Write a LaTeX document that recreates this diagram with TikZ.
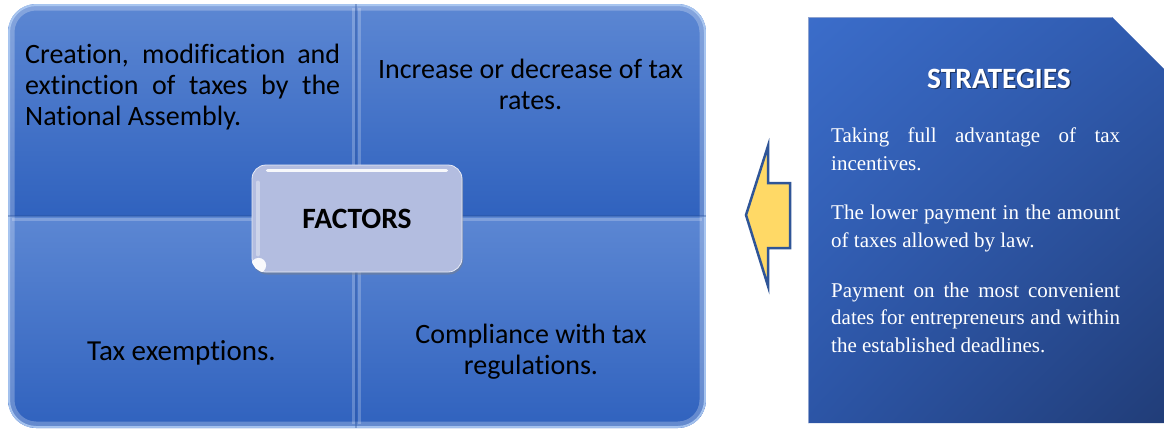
\documentclass[tikz,border=0pt]{standalone}
\usepackage{fontspec}
\setmainfont{Liberation Serif}
\newfontfamily\calibri[Ligatures=NoCommon]{Carlito}
\usetikzlibrary{shadows,shadings,calc}

\definecolor{quadtop}{HTML}{5C87D3}
\definecolor{quadbot}{HTML}{3062BE}
\definecolor{rimlight}{HTML}{B5D0F5}
\definecolor{factfill}{HTML}{B3BDE0}
\definecolor{arrowfill}{HTML}{FFD966}
\definecolor{arrowline}{HTML}{2F5597}
\definecolor{stratA}{HTML}{3B6DCA}
\definecolor{stratB}{HTML}{2F5AAE}
\definecolor{stratC}{HTML}{2C55A6}
\definecolor{stratD}{HTML}{213D78}
\definecolor{stratedge}{HTML}{8FA3CF}

\begin{document}
\begin{tikzpicture}[x=1pt,y=-1pt,
  quad/.style={top color=quadtop, bottom color=quadbot},
  quadtext/.style={inner sep=0pt, text=black, font=\calibri\fontsize{28}{31}\selectfont},
  factbox/.style={draw=white!70!factfill, line width=.8pt, fill=factfill, rounded corners=14pt,
    minimum width=210pt, minimum height=107pt, inner sep=0pt,
    font=\calibri\bfseries\fontsize{29.5}{32}\selectfont,
    drop shadow={shadow xshift=1pt, shadow yshift=-2.5pt, opacity=.45}},
  stratbody/.style={inner sep=0pt, text=white, text width=289pt, align=justify,
    font=\fontsize{21}{27.8}\selectfont},
  stitlefont/.style={font=\calibri\bfseries\fontsize{29.5}{32}\selectfont},
  gloss/.style={white, line cap=round}]

\useasboundingbox (0,0) rectangle (1164,429);

% four factor panels inside one rounded outline
\begin{scope}
  \clip[rounded corners=28pt] (8,4) rectangle (706,428);
  \shade[quad] (8,4) rectangle (356,216);
  \shade[quad] (356,4) rectangle (706,216);
  \shade[quad] (8,216) rectangle (356,428);
  \shade[quad] (356,216) rectangle (706,428);
  % bevel light along the outer rim and the seams
  \draw[white, opacity=.25, line width=5pt, rounded corners=24pt] (12,8) rectangle (702,424);
  \draw[rimlight, opacity=.85, line width=2pt, rounded corners=27pt] (9,5) rectangle (705,427);
  \draw[white, opacity=.22, line width=3pt] (353,8) -- (353,212) (359,8) -- (359,212)
       (353,220) -- (353,424) (359,220) -- (359,424);
  \draw[white, opacity=.22, line width=3pt] (12,219.5) -- (352,219.5) (360,219.5) -- (702,219.5);
  \draw[quadbot!80!black, opacity=.35, line width=1.5pt] (8,216) -- (706,216) (356,4) -- (356,428);
\end{scope}

\node[quadtext, anchor=north west, text width=315pt, align=justify] (creation) at (25,41.5)
  {\strut Creation, modification and\linebreak extinction of taxes by the\linebreak National Assembly.};
\node[quadtext, anchor=north, align=center] (rates) at (530.5,56.6)
  {\strut Increase or decrease of tax\\ rates.};
\node[quadtext, anchor=base, font=\calibri\fontsize{29}{31}\selectfont] (exempt) at (181.5,360)
  {Tax exemptions.};
\node[quadtext, anchor=north, align=center] (comply) at (531,321.6)
  {\strut Compliance with tax\\ regulations.};

% central label
\node[factbox] (factors) at (357,218.5) {FACTORS};
\draw[gloss, line width=3.5pt, opacity=.9] ($(factors.north west)+(16,6)$) -- ($(factors.north east)+(-16,6)$);
\draw[gloss, line width=4pt, opacity=.35] ($(factors.north west)+(6,18)$) -- ($(factors.south west)+(6,-18)$);
\begin{scope}
  \clip[rounded corners=14pt] (factors.south west) rectangle (factors.north east);
  \fill[white, opacity=.92] ($(factors.south west)+(7,-7)$) circle (7.5pt);
\end{scope}

% pointer from the strategies panel to the factors
\draw[arrowline, fill=arrowfill, line width=2.5pt, line join=miter]
  (746,215) -- (768,146) -- (768,183) -- (790,183) -- (790,248) -- (768,248) -- (768,286) -- cycle;

% strategies panel with a snipped corner
\shade[upper left=stratA, upper right=stratB, lower left=stratC, lower right=stratD]
  (808,17) -- (1112,17) -- (1164,69) -- (1164,423) -- (808,423) -- cycle;
\draw[stratedge, line width=.8pt] (808,423) -- (808,17) -- (1112,17);

\node[anchor=base, text=black, opacity=.45, stitlefont] (stitleshadow) at (1000.3,89.3) {STRATEGIES};
\node[anchor=base, text=white, stitlefont] (stitle) at (999,88) {STRATEGIES};

\node[stratbody, anchor=north west] (tips) at (831,123.2)
  {\parindent=0pt \parskip=21.5pt \hyphenpenalty=10000 \exhyphenpenalty=10000
   \strut Taking full advantage of tax\linebreak incentives.\par
   The lower payment in the amount\linebreak of taxes allowed by law.\par
   Payment on the most convenient\linebreak dates for entrepreneurs and within\linebreak the established deadlines.};

\end{tikzpicture}
\end{document}
